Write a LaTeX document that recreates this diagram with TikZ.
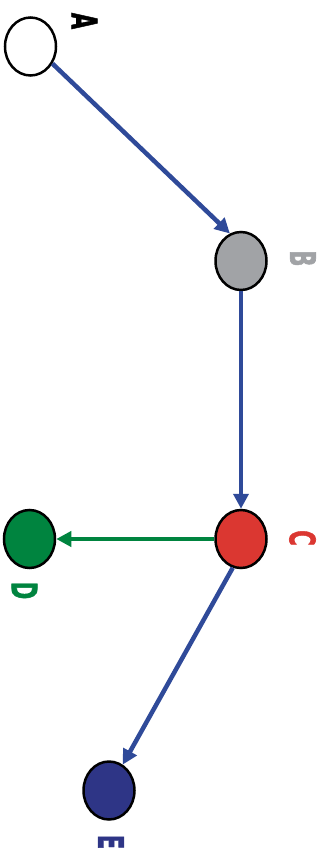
\documentclass[tikz,border=0pt]{standalone}
\usepackage{fontspec}
\setmainfont{DejaVu Sans}
\newfontfamily\heavy[FakeBold=2]{DejaVu Sans}
\usetikzlibrary{shapes.geometric,arrows.meta}
\definecolor{edgeblue}{HTML}{2F4A99}
\definecolor{nodeblue}{HTML}{2E3586}
\definecolor{nodegreen}{HTML}{00843F}
\definecolor{nodered}{HTML}{DB3731}
\definecolor{nodegrey}{HTML}{A1A3A6}
\tikzset{
  vertex/.style={ellipse, draw=black, line width=2.5pt, minimum width=51pt, minimum height=58pt, inner sep=0pt},
  lbl/.style={rotate=-90, inner sep=0pt, font=\heavy\fontsize{35}{35}\selectfont\bfseries},
  link/.style={line width=4.5pt, -{Triangle[length=15pt,width=15pt]}},
}
\newcommand{\sq}[1]{\scalebox{0.6}[1]{#1}}
\begin{document}
\begin{tikzpicture}[x=1pt,y=-1pt]
\useasboundingbox (0,0) rectangle (325,850);
\node[vertex, fill=white] (A) at (30.5,46.5) {};
\node[vertex, fill=nodegrey] (B) at (241,261) {};
\node[vertex, fill=nodered] (C) at (241,539) {};
\node[vertex, fill=nodegreen] (D) at (29.5,539) {};
\node[vertex, fill=nodeblue] (E) at (109,790.5) {};
\node[lbl, text=black] (lA) at (84.5,21) {\sq{A}};
\node[lbl, text=nodegrey] (lB) at (303,258.5) {\sq{B}};
\node[lbl, text=nodered] (lC) at (302.5,538) {\sq{C}};
\node[lbl, text=nodegreen] (lD) at (24.5,590.5) {\sq{D}};
\node[lbl, text=nodeblue] (lE) at (111,842) {\sq{E}};
\draw[link, draw=edgeblue, fill=edgeblue] (A.-38) -- (B.112);
\draw[link, draw=edgeblue, fill=edgeblue] (B) -- (C);
\draw[link, draw=nodegreen, fill=nodegreen] (C) -- (D);
\draw[link, draw=edgeblue, fill=edgeblue] (C.-106) -- (E.62);
\end{tikzpicture}
\end{document}
